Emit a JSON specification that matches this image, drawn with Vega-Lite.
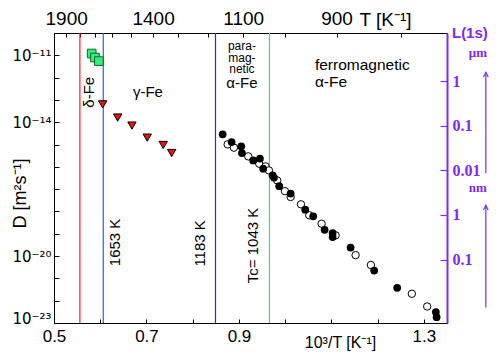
{
  "$schema": "https://vega.github.io/schema/vega-lite/v6.json",
  "width": 393,
  "height": 290,
  "autosize": "none",
  "padding": {"left": 54, "top": 33, "right": 49, "bottom": 35},
  "background": "white",
  "config": {
    "font": "Liberation Sans",
    "view": {"stroke": "black", "strokeWidth": 1},
    "axis": {
      "grid": false,
      "domainColor": "black",
      "tickColor": "black",
      "labelColor": "black",
      "labelFont": "Liberation Sans",
      "labelFontSize": 17,
      "titleFont": "Liberation Sans",
      "titleFontWeight": "normal",
      "titleFontSize": 16,
      "titleColor": "black",
      "labelFlush": false,
      "labelOverlap": false
    }
  },
  "datasets": {
    "boundaries": [
      {"invT": 0.556, "boundary": "melting"},
      {"invT": 0.6066, "boundary": "1653 K"},
      {"invT": 0.8493, "boundary": "1183 K"},
      {"invT": 0.966, "boundary": "Tc"}
    ],
    "delta": [
      {"invT": 0.5815, "D": 1.2e-11},
      {"invT": 0.5886, "D": 7.94e-12},
      {"invT": 0.597, "D": 5.5e-12}
    ],
    "gamma": [
      {"invT": 0.6053, "D": 6.31e-14},
      {"invT": 0.6377, "D": 1.62e-14},
      {"invT": 0.6686, "D": 7.08e-15},
      {"invT": 0.7017, "D": 2.04e-15},
      {"invT": 0.7363, "D": 9.55e-16},
      {"invT": 0.7545, "D": 4.17e-16}
    ],
    "alphaFilled": [
      {"invT": 0.8648, "D": 2.88e-15},
      {"invT": 0.8842, "D": 1.29e-15},
      {"invT": 0.905, "D": 8.32e-16},
      {"invT": 0.9065, "D": 4.17e-16},
      {"invT": 0.9309, "D": 1.95e-16},
      {"invT": 0.9454, "D": 2.34e-16},
      {"invT": 0.9525, "D": 8.32e-17},
      {"invT": 0.9729, "D": 4.17e-17},
      {"invT": 0.9757, "D": 3.31e-17},
      {"invT": 0.9871, "D": 1.35e-17},
      {"invT": 1.0118, "D": 6.31e-18},
      {"invT": 1.0434, "D": 1.2e-18},
      {"invT": 1.0606, "D": 6.03e-19},
      {"invT": 1.0853, "D": 1.51e-19},
      {"invT": 1.1026, "D": 1.07e-19},
      {"invT": 1.1026, "D": 7.08e-20},
      {"invT": 1.1415, "D": 2.4e-20},
      {"invT": 1.1925, "D": 2.24e-21},
      {"invT": 1.2423, "D": 3.8e-22},
      {"invT": 1.3259, "D": 3.09e-23},
      {"invT": 1.3275, "D": 1.82e-23}
    ],
    "alphaOpen": [
      {"invT": 0.8756, "D": 1.02e-15},
      {"invT": 0.8892, "D": 7.24e-16},
      {"invT": 0.9201, "D": 2.95e-16},
      {"invT": 0.9439, "D": 1.38e-16},
      {"invT": 0.9577, "D": 1.05e-16},
      {"invT": 0.9649, "D": 6.92e-17},
      {"invT": 0.9828, "D": 2.45e-17},
      {"invT": 0.9995, "D": 8.13e-18},
      {"invT": 1.0118, "D": 4.47e-18},
      {"invT": 1.0341, "D": 2.09e-18},
      {"invT": 1.052, "D": 6.76e-19},
      {"invT": 1.0788, "D": 2.82e-19},
      {"invT": 1.1091, "D": 8.51e-20},
      {"invT": 1.1523, "D": 1.1e-20},
      {"invT": 1.1854, "D": 3.98e-21},
      {"invT": 1.274, "D": 2.04e-22},
      {"invT": 1.3071, "D": 5.5e-23}
    ],
    "rotLabels": [
      {"invT": 0.5757, "D": 2.2e-13, "label": "δ-Fe"},
      {"invT": 0.6319, "D": 4.1e-20, "label": "1653 K"},
      {"invT": 0.8157, "D": 3.7e-20, "label": "1183 K"},
      {"invT": 0.9303, "D": 3.0e-20, "label": "Tc= 1043 K"}
    ],
    "phaseLabels": [
      {"invT": 0.7032, "D": 2.2e-13, "label": "γ-Fe", "anchor": "center"},
      {"invT": 0.9065, "D": 5.5e-13, "label": "α-Fe", "anchor": "center"},
      {"invT": 1.0643, "D": 3.55e-12, "label": "ferromagnetic", "anchor": "left"},
      {"invT": 1.0643, "D": 6.2e-13, "label": "α-Fe", "anchor": "left"}
    ],
    "paraLabel": [
      {"invT": 0.9065, "D": 2.5e-11, "label": ["para-", "mag-", "netic"]}
    ],
    "purpleLabels": [
      {"invT": 1.3995, "D": 9.8e-11, "label": "L(1s)"}
    ],
    "units": [
      {"invT": 1.4168, "D": 1.23e-11, "label": "μm"},
      {"invT": 1.4168, "D": 1.1e-17, "label": "nm"}
    ],
    "arrows": [
      {"invT": 1.434, "D": 1.73e-12, "D2": 5.1e-17},
      {"invT": 1.434, "D": 1.86e-18, "D2": 5.0e-23}
    ]
  },
  "layer": [
    {
      "data": {"name": "boundaries"},
      "mark": {"type": "rule", "strokeWidth": 1.2},
      "encoding": {
        "x": {"field": "invT", "type": "quantitative", "scale": {"domain": [0.5, 1.35], "nice": false, "zero": false}, "axis": null},
        "color": {"field": "boundary", "type": "nominal", "legend": null,
          "scale": {"domain": ["melting", "1653 K", "1183 K", "Tc"], "range": ["#ff1a1a", "#2266ee", "#333399", "#33dd77"]}}
      }
    },
    {
      "data": {"name": "delta"},
      "mark": {"type": "point", "shape": "square", "filled": true, "size": 75, "color": "#33ee77", "stroke": "#116633", "strokeWidth": 1, "opacity": 1},
      "encoding": {
        "x": {"field": "invT", "type": "quantitative", "scale": {"domain": [0.5, 1.35], "nice": false, "zero": false},
          "axis": {"orient": "bottom", "values": [0.5, 0.6, 0.7, 0.8, 0.9, 1.0, 1.1, 1.2, 1.3], "tickSize": -4, "labelPadding": 9,
            "labelExpr": "indexof(['0.5','0.7','0.9','1.3'], format(datum.value, '.1f')) >= 0 ? format(datum.value, '.1f') : ''",
            "title": "10³/T [K⁻¹]", "titleX": 286, "titleY": 19, "titleBaseline": "middle", "titleAlign": "center", "titleAnchor": null}},
        "y": {"field": "D", "type": "quantitative", "scale": {"type": "log", "domain": [1e-23, 1e-10], "nice": false},
          "axis": {"orient": "left", "values": [1e-23, 1e-22, 1e-21, 1e-20, 1e-19, 1e-18, 1e-17, 1e-16, 1e-15, 1e-14, 1e-13, 1e-12, 1e-11, 1e-10], "tickSize": -5, "labelPadding": 8,
            "labelFont": "DejaVu Sans", "labelFontSize": 15,
            "labelOffset": {"condition": {"test": "datum.value < 2e-23", "value": -5}, "value": 0},
            "labelExpr": "round(log(datum.value)/LN10) == -11 ? '10⁻¹¹' : round(log(datum.value)/LN10) == -14 ? '10⁻¹⁴' : round(log(datum.value)/LN10) == -20 ? '10⁻²⁰' : round(log(datum.value)/LN10) == -23 ? '10⁻²³' : ''",
            "title": "D [m²s⁻¹]", "titleFontSize": 18, "titleX": -34, "titleY": 160, "titleAngle": 270, "titleBaseline": "middle", "titleAlign": "center", "titleAnchor": null}}
      }
    },
    {
      "data": {"name": "gamma"},
      "mark": {"type": "point", "shape": "triangle-down", "filled": true, "size": 70, "color": "#ee1111", "stroke": "black", "strokeWidth": 1, "opacity": 1},
      "encoding": {
        "x": {"field": "invT", "type": "quantitative", "scale": {"domain": [0.5, 1.35], "nice": false, "zero": false}, "axis": null},
        "y": {"field": "D", "type": "quantitative", "scale": {"type": "log", "domain": [1e-23, 1e-10], "nice": false}, "axis": null}
      }
    },
    {
      "data": {"name": "alphaOpen"},
      "mark": {"type": "point", "shape": "circle", "filled": true, "size": 55, "color": "white", "stroke": "black", "strokeWidth": 1, "opacity": 1},
      "encoding": {
        "x": {"field": "invT", "type": "quantitative", "scale": {"domain": [0.5, 1.35], "nice": false, "zero": false}, "axis": null},
        "y": {"field": "D", "type": "quantitative", "scale": {"type": "log", "domain": [1e-23, 1e-10], "nice": false}, "axis": null}
      }
    },
    {
      "data": {"name": "alphaFilled"},
      "mark": {"type": "point", "shape": "circle", "filled": true, "size": 60, "color": "black", "opacity": 1},
      "encoding": {
        "x": {"field": "invT", "type": "quantitative", "scale": {"domain": [0.5, 1.35], "nice": false, "zero": false}, "axis": null},
        "y": {"field": "D", "type": "quantitative", "scale": {"type": "log", "domain": [1e-23, 1e-10], "nice": false}, "axis": null}
      }
    },
    {
      "data": {"name": "rotLabels"},
      "mark": {"type": "text", "angle": 270, "fontSize": 15, "color": "black", "align": "center", "baseline": "middle"},
      "encoding": {
        "x": {"field": "invT", "type": "quantitative", "scale": {"domain": [0.5, 1.35], "nice": false, "zero": false}, "axis": null},
        "y": {"field": "D", "type": "quantitative", "scale": {"type": "log", "domain": [1e-23, 1e-10], "nice": false}, "axis": null},
        "text": {"field": "label"}
      }
    },
    {
      "data": {"name": "phaseLabels"},
      "transform": [{"filter": "datum.anchor == 'center'"}],
      "mark": {"type": "text", "fontSize": 15, "color": "black", "align": "center", "baseline": "middle"},
      "encoding": {
        "x": {"field": "invT", "type": "quantitative", "scale": {"domain": [0.5, 1.35], "nice": false, "zero": false}, "axis": null},
        "y": {"field": "D", "type": "quantitative", "scale": {"type": "log", "domain": [1e-23, 1e-10], "nice": false}, "axis": null},
        "text": {"field": "label"}
      }
    },
    {
      "data": {"name": "phaseLabels"},
      "transform": [{"filter": "datum.anchor == 'left'"}],
      "mark": {"type": "text", "fontSize": 15.5, "color": "black", "align": "left", "baseline": "middle"},
      "encoding": {
        "x": {"field": "invT", "type": "quantitative", "scale": {"domain": [0.5, 1.35], "nice": false, "zero": false}, "axis": null},
        "y": {"field": "D", "type": "quantitative", "scale": {"type": "log", "domain": [1e-23, 1e-10], "nice": false}, "axis": null},
        "text": {"field": "label"}
      }
    },
    {
      "data": {"name": "paraLabel"},
      "mark": {"type": "text", "fontSize": 12, "lineHeight": 11.5, "color": "black", "align": "center", "baseline": "middle"},
      "encoding": {
        "x": {"field": "invT", "type": "quantitative", "scale": {"domain": [0.5, 1.35], "nice": false, "zero": false}, "axis": null},
        "y": {"field": "D", "type": "quantitative", "scale": {"type": "log", "domain": [1e-23, 1e-10], "nice": false}, "axis": null},
        "text": {"field": "label"}
      }
    },
    {
      "data": {"name": "arrows"},
      "mark": {"type": "rule", "color": "#7f2af0", "strokeWidth": 1.2},
      "encoding": {
        "x": {"field": "invT", "type": "quantitative", "scale": {"domain": [0.5, 1.35], "nice": false, "zero": false}, "axis": null},
        "y": {"field": "D", "type": "quantitative", "scale": {"type": "log", "domain": [1e-23, 1e-10], "nice": false}, "axis": null},
        "y2": {"field": "D2"}
      }
    },
    {
      "data": {"name": "arrows"},
      "mark": {"type": "point", "shape": "M -0.6 1.2 L 0 0 L 0.6 1.2", "filled": false, "size": 60, "color": "#7f2af0", "strokeWidth": 1.2, "opacity": 1},
      "encoding": {
        "x": {"field": "invT", "type": "quantitative", "scale": {"domain": [0.5, 1.35], "nice": false, "zero": false}, "axis": null},
        "y": {"field": "D", "type": "quantitative", "scale": {"type": "log", "domain": [1e-23, 1e-10], "nice": false}, "axis": null}
      }
    },
    {
      "data": {"name": "units"},
      "mark": {"type": "text", "font": "Liberation Serif", "fontWeight": "bold", "fontSize": 13, "color": "#7f2af0", "align": "center", "baseline": "middle"},
      "encoding": {
        "x": {"field": "invT", "type": "quantitative", "scale": {"domain": [0.5, 1.35], "nice": false, "zero": false}, "axis": null},
        "y": {"field": "D", "type": "quantitative", "scale": {"type": "log", "domain": [1e-23, 1e-10], "nice": false}, "axis": null},
        "text": {"field": "label"}
      }
    },
    {
      "data": {"name": "purpleLabels"},
      "mark": {"type": "text", "fontWeight": "bold", "fontSize": 15, "color": "#7f2af0", "align": "center", "baseline": "middle"},
      "encoding": {
        "x": {"field": "invT", "type": "quantitative", "scale": {"domain": [0.5, 1.35], "nice": false, "zero": false},
          "axis": {"orient": "top", "values": [0.52632, 0.55556, 0.58824, 0.625, 0.66667, 0.71429, 0.76923, 0.83333, 0.90909, 1.0, 1.11111, 1.25],
            "tickSize": -4, "labelPadding": 9, "domain": false, "labelFontSize": 19,
            "labelExpr": "round(1000/datum.value) == 1900 || round(1000/datum.value) == 1400 || round(1000/datum.value) == 1100 || round(1000/datum.value) == 900 ? format(round(1000/datum.value), 'd') : ''",
            "title": "T [K⁻¹]", "titleFontSize": 19, "titleX": 331, "titleY": -14, "titleBaseline": "middle", "titleAlign": "center", "titleAnchor": null}},
        "y": {"field": "D", "type": "quantitative", "scale": {"type": "log", "domain": [1e-23, 1e-10], "nice": false},
          "axis": {"orient": "right", "values": [7e-13, 7e-15, 7e-17, 7e-19, 7e-21], "tickSize": -7, "labelPadding": 12,
            "domainColor": "#7f2af0", "domainWidth": 2, "tickColor": "#7f2af0", "tickWidth": 1.2,
            "labelColor": "#7f2af0", "labelFont": "Liberation Serif", "labelFontWeight": "bold", "labelFontSize": 16,
            "labelExpr": "datum.value > 1e-13 ? '1' : datum.value > 1e-15 ? '0.1' : datum.value > 1e-17 ? '0.01' : datum.value > 1e-19 ? '1' : '0.1'",
            "title": null}},
        "text": {"field": "label"}
      }
    }
  ],
  "resolve": {"axis": {"x": "independent", "y": "independent"}}
}
